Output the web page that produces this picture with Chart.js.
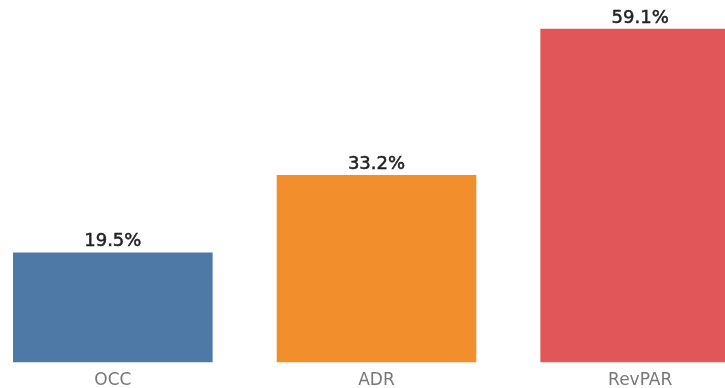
<!DOCTYPE html>
<html lang="en">
<head>
  <meta charset="UTF-8">
  <title>OCC / ADR / RevPAR</title>
  <style>
    html, body {
      margin: 0;
      padding: 0;
      background: #fff;
      overflow: hidden;
    }
    .chartBox {
      position: absolute;
      left: -19px;
      top: 0;
      width: 791px;
      height: 400px;
    }
  </style>
</head>
<body>
  <div class="chartBox">
    <canvas id="kpiChart"></canvas>
  </div>

  <script src="https://cdn.jsdelivr.net/npm/chart.js"></script>
  <script>
    // Year-over-year change per metric (%)
    const categories = ['OCC', 'ADR', 'RevPAR'];
    const changes = [19.5, 33.2, 59.1];
    const barColors = ['#4e79a7', '#f28e2b', '#e15759'];

    // Draws the percentage above each bar
    const valueLabels = {
      id: 'valueLabels',
      afterDatasetsDraw(chart) {
        const ctx = chart.ctx;
        const meta = chart.getDatasetMeta(0);
        ctx.save();
        ctx.font = '18px "DejaVu Sans", Verdana, sans-serif';
        ctx.fillStyle = '#222';
        ctx.strokeStyle = '#222';
        ctx.lineWidth = 0.5;
        ctx.textAlign = 'center';
        ctx.textBaseline = 'alphabetic';
        meta.data.forEach((bar, i) => {
          const v = chart.data.datasets[0].data[i];
          const txt = v.toFixed(1) + '%';
          ctx.fillText(txt, bar.x, bar.y - 6);
          ctx.strokeText(txt, bar.x, bar.y - 6);
        });
        ctx.restore();
      }
    };

    new Chart(document.getElementById('kpiChart'), {
      type: 'bar',
      data: {
        labels: categories,
        datasets: [{
          label: 'Change',
          data: changes,
          backgroundColor: barColors,
          borderWidth: 0,
          categoryPercentage: 1,
          barPercentage: 0.757
        }]
      },
      options: {
        responsive: true,
        maintainAspectRatio: false,
        animation: false,
        layout: { padding: { top: 1, bottom: 1, left: 0, right: 0 } },
        plugins: {
          legend: { display: false },
          tooltip: { enabled: false }
        },
        scales: {
          x: {
            grid: { display: false, drawTicks: false },
            border: { display: false },
            ticks: {
              padding: 8,
              color: '#777',
              font: { family: '"DejaVu Sans", Verdana, sans-serif', size: 17 }
            }
          },
          y: {
            display: false,
            min: 0,
            max: 64
          }
        }
      },
      plugins: [valueLabels]
    });
  </script>
</body>
</html>
